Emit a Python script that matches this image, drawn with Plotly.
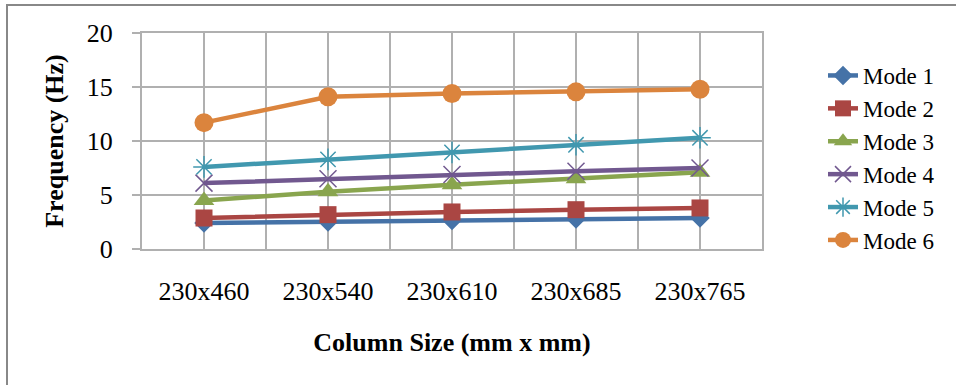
import plotly.graph_objects as go

categories = ["230x460", "230x540", "230x610", "230x685", "230x765"]
mode1 = [2.4, 2.5, 2.65, 2.78, 2.87]
mode2 = [2.87, 3.18, 3.43, 3.64, 3.8]
mode3 = [4.5, 5.3, 5.95, 6.5, 7.1]
mode4 = [6.1, 6.5, 6.9, 7.2, 7.5]
mode5 = [7.6, 8.3, 8.95, 9.65, 10.3]
mode6 = [11.7, 14.1, 14.4, 14.55, 14.8]
y_ticks = [0, 5, 10, 15, 20]

names = ["Mode 1", "Mode 2", "Mode 3", "Mode 4", "Mode 5", "Mode 6"]
series = [mode1, mode2, mode3, mode4, mode5, mode6]
colors = ["#4572A7", "#AA4643", "#89A54E", "#71588F", "#4198AF", "#DB843D"]
symbols = ["diamond", "square", "triangle-up", "x-thin", "asterisk", "circle"]
sizes = [15, 17, 18, 17, 18, 19]

W, H = 956, 385
L, R, T, B = 142, 762, 33, 249

fig = go.Figure()
xs = list(range(len(categories)))
for name, vals, c, s, sz in zip(names, series, colors, symbols, sizes):
    open_sym = s in ("x-thin", "asterisk")
    fig.add_trace(go.Scatter(
        x=xs, y=vals, name=name, mode="lines+markers",
        line=dict(color=c, width=4.5),
        marker=dict(symbol=s, size=sz, color=c,
                    line=dict(color=c, width=1.5 if open_sym else 0)),
    ))

grid = "#b0b0b0"
fig.update_layout(
    width=W, height=H,
    margin=dict(l=L, r=W - R, t=T, b=H - B),
    paper_bgcolor="white", plot_bgcolor="white",
    font=dict(family="Liberation Serif, Times New Roman, serif", size=26, color="black"),
    showlegend=True,
    legend=dict(x=(823 - L) / (R - L), y=(B - 54) / (B - T), xanchor="left", yanchor="top",
                font=dict(size=23), bgcolor="rgba(0,0,0,0)", tracegroupgap=0,
                maxheight=320),
    xaxis=dict(
        range=[-0.5, len(categories) - 0.5],
        tickvals=xs, ticktext=categories,
        showgrid=True, gridcolor=grid, gridwidth=2,
        minor=dict(tick0=-0.5, dtick=1, showgrid=True, gridcolor=grid, gridwidth=2),
        showline=True, linecolor=grid, linewidth=2, mirror=True,
        ticks="", ticklabelstandoff=18,
        zeroline=False,
        title=dict(text="<b>Column Size (mm x mm)</b>", font=dict(size=26), standoff=28),
    ),
    yaxis=dict(
        range=[0, 20], tickvals=y_ticks,
        showgrid=True, gridcolor=grid, gridwidth=2,
        showline=True, linecolor=grid, linewidth=2, mirror=True,
        ticks="outside", ticklen=8, tickwidth=2, tickcolor=grid,
        ticklabelstandoff=14, zeroline=False,
        title=dict(text="<b>Frequency (Hz)</b>", font=dict(size=26), standoff=16),
    ),
    shapes=[dict(type="rect", xref="paper", yref="paper",
                 x0=(7 - L) / (R - L), x1=(965 - L) / (R - L),
                 y0=(B - 395) / (B - T), y1=(B - 5) / (B - T),
                 line=dict(color="#888888", width=2), fillcolor="rgba(0,0,0,0)",
                 layer="below")],
)

fig.write_html("out.html")
